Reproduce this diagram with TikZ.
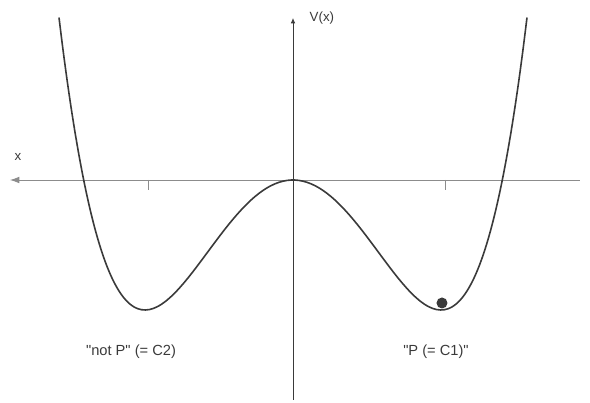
\documentclass[tikz,border=0pt]{standalone}
\usepackage{fontspec}
\setmainfont{Liberation Sans}
\usetikzlibrary{arrows.meta}
\definecolor{ink}{HTML}{3A3A3A}
\definecolor{axisgrey}{HTML}{8C8C8C}

\begin{document}
\begin{tikzpicture}[
    x=0.75pt, y=0.75pt,
    axis/.style={draw=axisgrey, line width=0.6pt},
    curve/.style={draw=ink, line width=1.2pt},
    label/.style={font=\fontsize{11}{13}\selectfont, text=ink},
    axlabel/.style={font=\fontsize{10}{12}\selectfont, text=ink}
]
\useasboundingbox (-293,-223) rectangle (297,180);
\def\A{130}
\def\W{148}

% axes
\coordinate (xl) at (-283,0);
\coordinate (xr) at (287,0);
\coordinate (yt) at (0,162);
\coordinate (yb) at (0,-220);
\draw[axis, -{Latex[length=7pt, width=5pt]}] (xr) -- (xl);
\draw[axis, draw=ink, -{Latex[length=4pt, width=3.5pt]}] (yb) -- (yt);
\foreach \t in {-145,152} {
    \draw[axis] (\t,0) -- (\t,-10);
}
\node[axlabel, anchor=center] (xlab) at (-275,23) {x};
\node[axlabel, anchor=west] (vlab) at (12,162) {V(x)};

% double well
\draw[curve, smooth, samples=120, domain=-234:234]
    plot (\x, {\A*((\x/\W)^2-1)^2-\A});
\fill[ink] (149,-123) circle (5.5);

\node[label] (notp) at (-162,-172) {\textquotedbl not P\textquotedbl\ (= C2)};
\node[label] (p) at (143,-172) {\textquotedbl P (= C1)\textquotedbl};
\end{tikzpicture}
\end{document}
